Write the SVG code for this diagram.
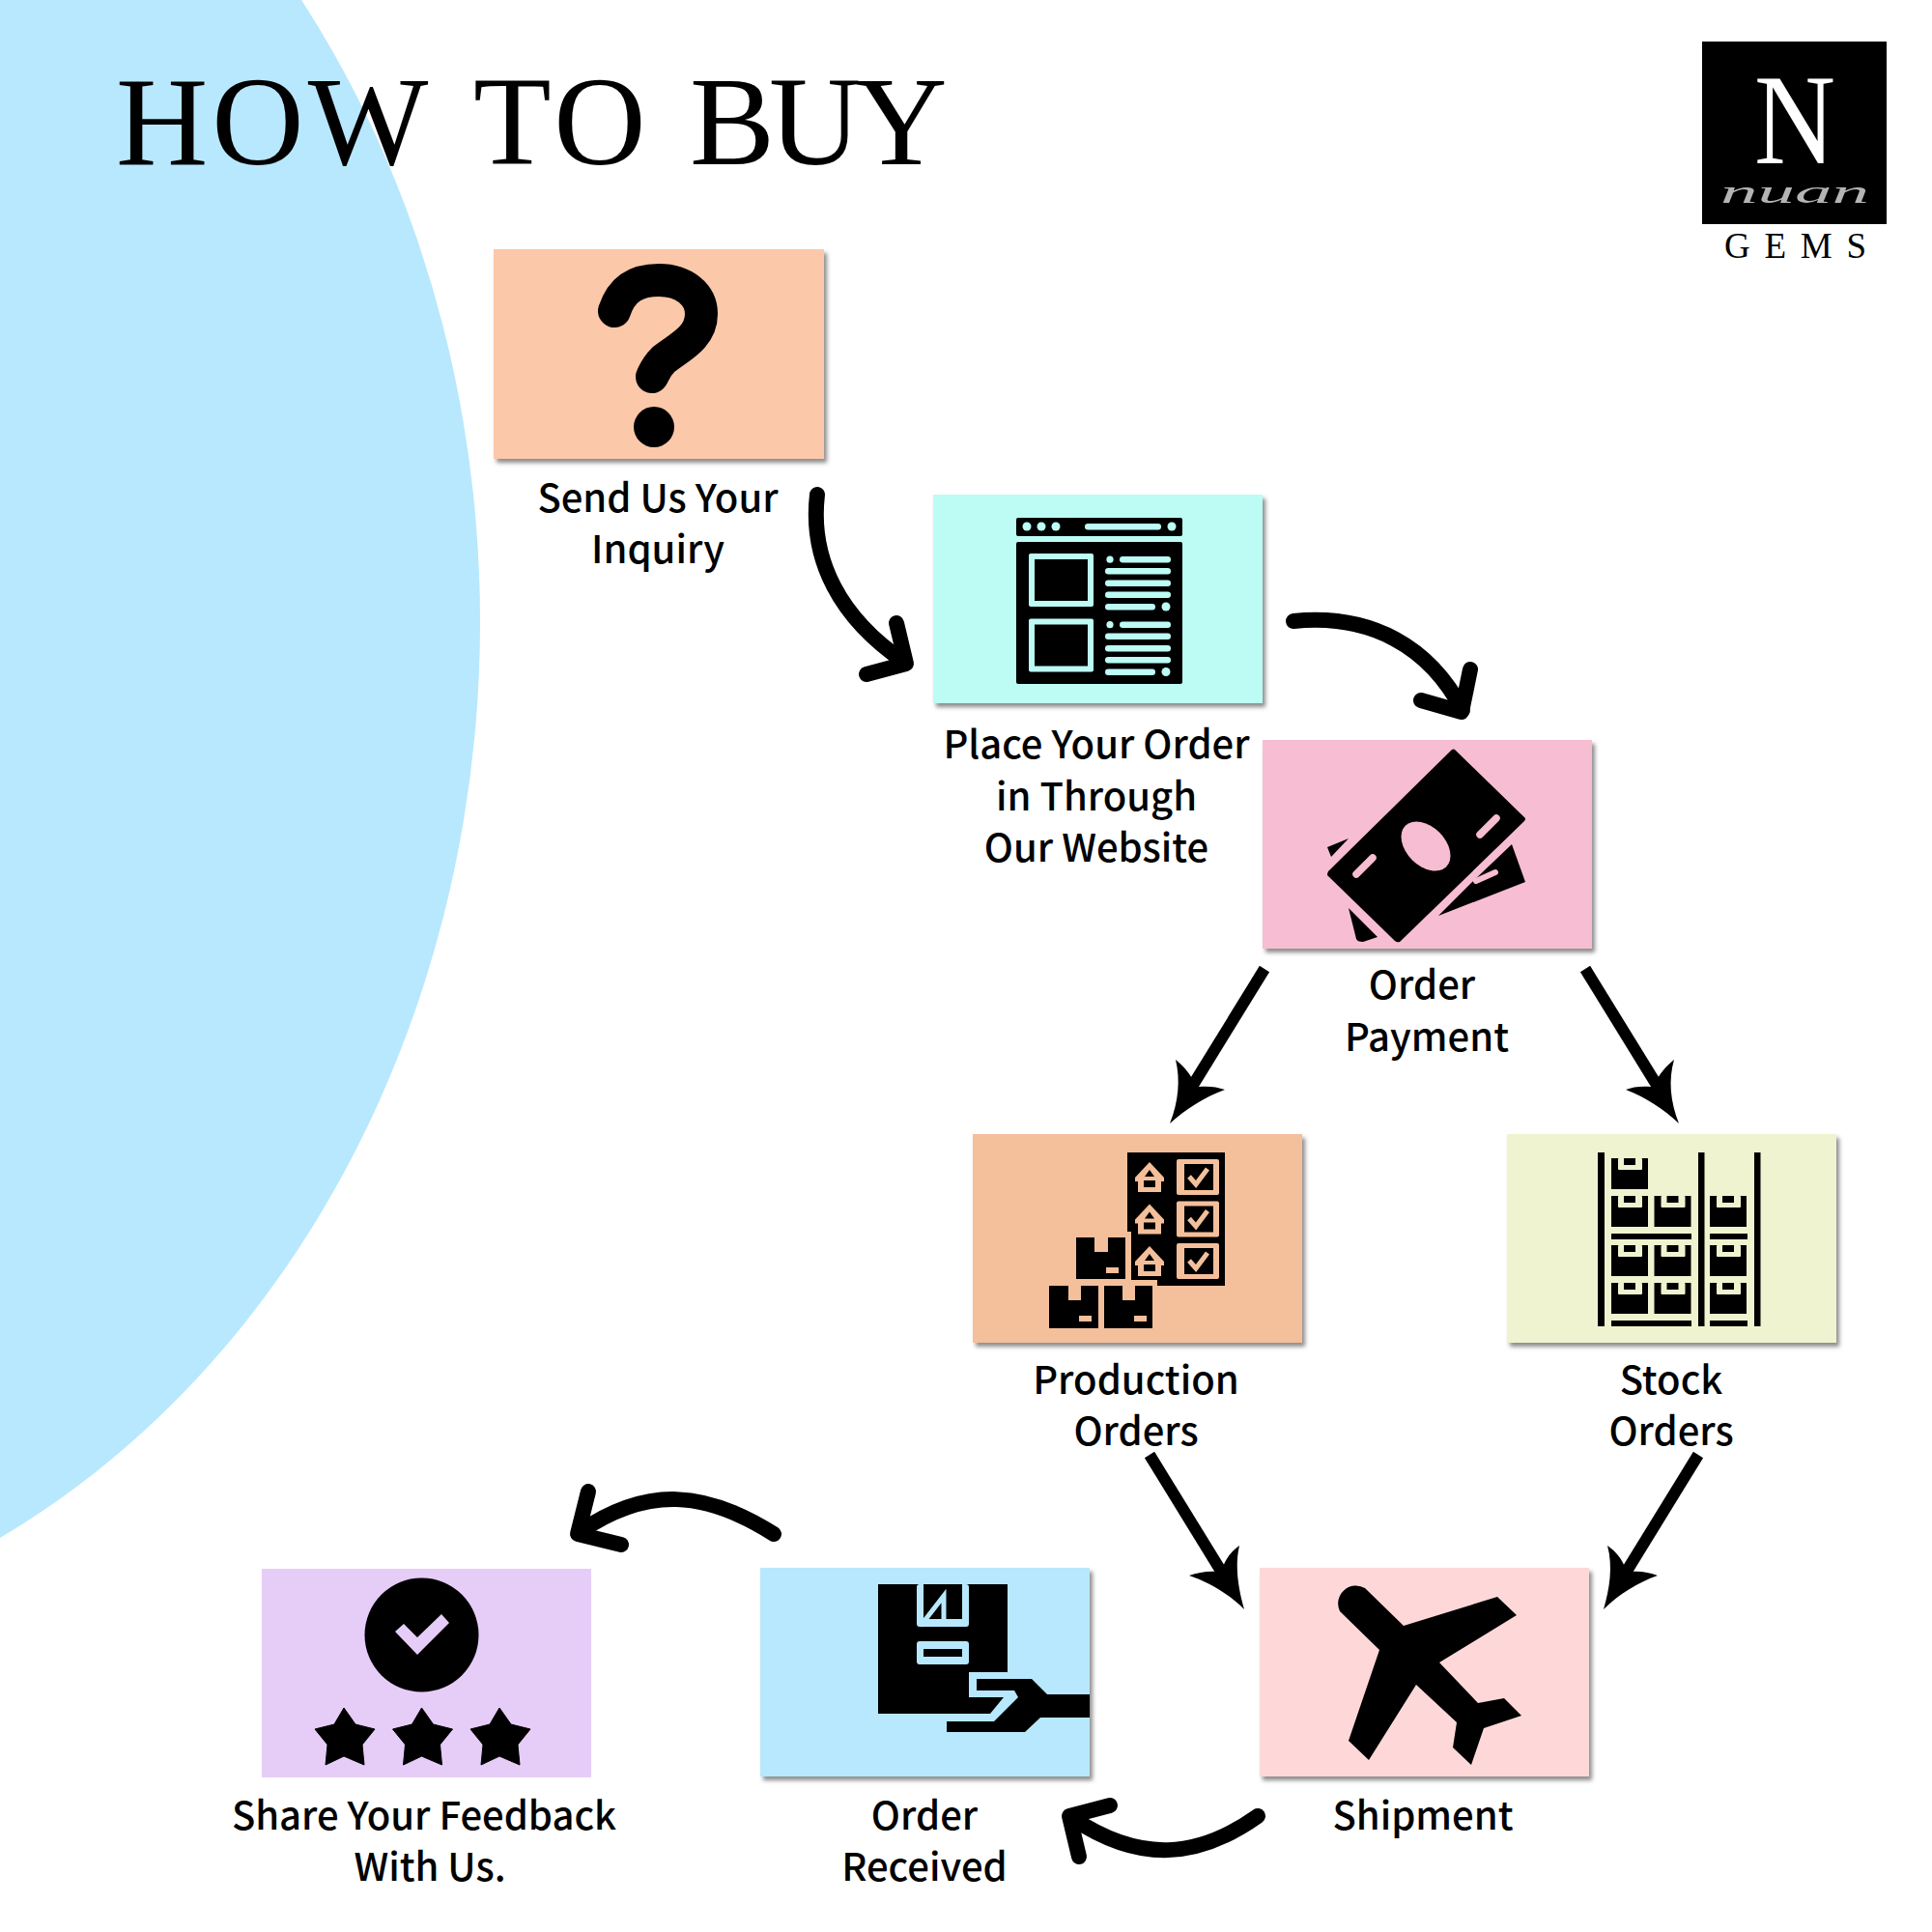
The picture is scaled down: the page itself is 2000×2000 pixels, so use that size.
<svg xmlns="http://www.w3.org/2000/svg" width="2000" height="2000" viewBox="0 0 2000 2000">
<style>
.lbl{font-family:"Noto Sans CJK JP","Noto Sans",sans-serif;font-weight:500;font-size:40px;fill:#000;text-anchor:middle}
.serif{font-family:"Liberation Serif",serif}
.curve{fill:none;stroke:#000;stroke-width:16;stroke-linecap:round;stroke-linejoin:round}
.line{fill:none;stroke:#000;stroke-width:12}
.ah{fill:#000}
.mint{fill:#bcfcf5}
.c{fill:#b8e8fd}
.p{fill:#f4bf9b}
.y{fill:#f0f3cf}
</style>
<defs>
<filter id="sh" x="-5%" y="-5%" width="112%" height="115%"><feDropShadow dx="3" dy="4" stdDeviation="2" flood-color="#666" flood-opacity=".75"/></filter>
<g id="webline"><rect x="1144" y="0" width="68" height="6.5" rx="3.2" class="mint"/></g>
<g id="webgroup">
<circle cx="1149" cy="3.2" r="3.6" class="mint"/><rect x="1159" y="0" width="53" height="6.5" rx="3.2" class="mint"/>
<use href="#webline" y="12"/><use href="#webline" y="24.5"/><use href="#webline" y="36.5"/>
<rect x="1144" y="49" width="52" height="6.5" rx="3.2" class="mint"/><circle cx="1207" cy="52" r="4.5" class="mint"/>
<rect x="1065" y="-3" width="67" height="55" rx="2" class="mint"/><rect x="1071" y="3" width="55" height="43" fill="#000"/>
</g>
<g id="prodrow">
<path class="p" d="M1190 1203L1205 1219V1223H1202V1234H1178V1223H1175V1219Z"/>
<path d="M1190 1211L1185 1218H1195ZM1184 1222H1196V1229H1184Z" fill="#000"/>
<rect x="1218" y="1200" width="44" height="37" rx="2" class="p"/><rect x="1226" y="1205" width="30" height="27" fill="#000"/>
<path d="M1231 1218L1238 1226L1250 1210" fill="none" stroke="#f4bf9b" stroke-width="5"/>
</g>
<g id="carton">
<rect x="0" y="0" width="38" height="32" fill="#000"/>
<rect x="7" y="0" width="25" height="12" rx="1" class="y"/><rect x="13" y="0" width="12" height="7" fill="#000"/>
</g>
<path id="star" d="M356 1768L368 1785L388 1790L375 1806L377 1827L356 1818L337 1827L339 1806L326 1790L346 1785Z" fill="#000" stroke="#000" stroke-width="1" stroke-linejoin="round"/>
</defs>
<rect width="2000" height="2000" fill="#fff"/>
<ellipse cx="-400" cy="644" rx="897" ry="1059" fill="#b8e8fd"/>
<text class="serif" y="170" font-size="132" fill="#000"><tspan x="120" letter-spacing="4">HOW</tspan> <tspan x="490" letter-spacing="5">TO</tspan> <tspan x="714" letter-spacing="-6">BUY</tspan></text>

<g id="logo">
<rect x="1762" y="43" width="191" height="189" fill="#000"/>
<text class="serif" x="1816" y="169" font-size="134" fill="#fff" textLength="84" lengthAdjust="spacingAndGlyphs">N</text>
<text class="serif" x="1781" y="210" font-size="33" font-style="italic" fill="#b4b4b4" textLength="154" lengthAdjust="spacingAndGlyphs">nuan</text>
<text class="serif" x="1785" y="267" font-size="37" fill="#000" textLength="147">GEMS</text>
</g>

<g id="connectors">
<path class="curve" d="M846 512C838 580 870 640 936 685"/><path class="curve" d="M928 645L938 687L897 698"/>
<path class="curve" d="M1339 643C1420 635 1480 670 1514 735"/><path class="curve" d="M1522 693L1513 737L1471 725"/>
<path class="line" d="M1309 1003L1232 1128"/><path class="ah" d="M1211 1163C1220 1140 1222 1118 1217 1097C1226 1104 1232 1112 1236 1120L1241 1125C1250 1124 1260 1125 1268 1128C1246 1136 1228 1148 1211 1163Z"/>
<path class="line" d="M1641 1003L1718 1128"/><path class="ah" d="M1738 1163C1729 1140 1727 1118 1733 1097C1724 1104 1718 1112 1714 1120L1709 1125C1700 1124 1690 1125 1683 1128C1704 1136 1722 1148 1738 1163Z"/>
<path class="line" d="M1190 1506L1270 1636"/><path class="ah" d="M1288 1666C1282 1645 1278 1622 1283 1600C1274 1606 1268 1615 1265 1625L1260 1627C1250 1626 1240 1628 1231 1631C1252 1638 1272 1650 1288 1666Z"/>
<path class="line" d="M1758 1506L1678 1636"/><path class="ah" d="M1660 1666C1666 1645 1670 1622 1664 1600C1673 1606 1680 1615 1683 1625L1688 1627C1698 1626 1708 1628 1716 1631C1696 1638 1676 1650 1660 1666Z"/>
<path class="curve" d="M801 1588C730 1543 670 1538 600 1586"/><path class="curve" d="M609 1544L598 1588L643 1599"/>
<path class="curve" d="M1302 1880C1240 1924 1180 1929 1110 1882"/><path class="curve" d="M1149 1869L1107 1880L1117 1922"/>
</g>

<g id="node-inquiry">
<rect x="511" y="258" width="342" height="217" fill="#fbc8a9" filter="url(#sh)"/>
<path d="M636 322C644 298 660 290 682 290C708 290 726 305 726 325C726 350 702 360 687 372C679 380 677 386 675 390" fill="none" stroke="#000" stroke-width="34" stroke-linecap="round"/>
<circle cx="677" cy="442" r="21" fill="#000"/>
<text class="lbl"><tspan x="681" y="530">Send Us Your</tspan><tspan x="681" y="583">Inquiry</tspan></text>
</g>

<g id="node-order">
<rect x="966" y="512" width="341" height="216" fill="#bcfcf5" filter="url(#sh)"/>
<rect x="1052" y="536" width="172" height="19" rx="2" fill="#000"/>
<rect x="1052" y="561" width="172" height="147" rx="2" fill="#000"/>
<circle cx="1063" cy="545" r="4.5" class="mint"/><circle cx="1078" cy="545" r="4.5" class="mint"/><circle cx="1093" cy="545" r="4.5" class="mint"/>
<rect x="1123" y="542" width="79" height="6.5" rx="3.2" class="mint"/><circle cx="1213" cy="545" r="4.5" class="mint"/>
<use href="#webgroup" y="576"/><use href="#webgroup" y="643.5"/>
<text class="lbl"><tspan x="1135" y="785">Place Your Order</tspan><tspan x="1135" y="839">in Through</tspan><tspan x="1135" y="892">Our Website</tspan></text>
</g>

<g id="node-payment">
<rect x="1307" y="766" width="341" height="216" fill="#f7bdd2" filter="url(#sh)"/>
<path d="M1396 868L1374 877L1378 887ZM1565 874L1579 913L1489 948L1523 914ZM1396 940L1426 970L1411 975Q1405 975 1404 972Z" fill="#000"/>
<path d="M1528 912L1548 903" stroke="#f7bdd2" stroke-width="6" stroke-linecap="round"/>
<path d="M1506 776L1579 847Q1579 849 1578 850L1449 975Q1446 976 1444 974L1374 906Q1374 904 1375 902L1503 776Q1505 775 1506 776Z" fill="#000"/>
<ellipse cx="1476" cy="876" rx="30" ry="20" transform="rotate(45 1476 876)" fill="#f7bdd2"/>
<path d="M1549 847L1532 864M1421 888L1404 905" stroke="#f7bdd2" stroke-width="7.5" stroke-linecap="round"/>
<text class="lbl"><tspan x="1472" y="1034">Order</tspan><tspan x="1477" y="1088">Payment</tspan></text>
</g>

<g id="node-production">
<rect x="1007" y="1174" width="341" height="216" fill="#f4bf9b" filter="url(#sh)"/>
<path d="M1167 1193H1268V1331H1198V1325H1171V1275H1167Z" fill="#000"/>
<use href="#prodrow"/><use href="#prodrow" y="43.5"/><use href="#prodrow" y="87"/>
<path d="M1114 1281H1133V1296H1147V1281H1165V1324H1114ZM1145 1312V1318H1158V1312Z" fill="#000" fill-rule="evenodd"/>
<path d="M1086 1331H1106V1346H1119V1331H1137V1375H1086ZM1117 1362V1368H1130V1362Z" fill="#000" fill-rule="evenodd"/>
<path d="M1143 1331H1162V1346H1175V1331H1193V1375H1143ZM1174 1362V1368H1187V1362Z" fill="#000" fill-rule="evenodd"/>
<text class="lbl"><tspan x="1176" y="1443">Production</tspan><tspan x="1176" y="1496">Orders</tspan></text>
</g>

<g id="node-stock">
<rect x="1560" y="1174" width="341" height="216" fill="#f0f3cf" filter="url(#sh)"/>
<rect x="1654" y="1193" width="7" height="180"/><rect x="1758" y="1193" width="6.5" height="180"/><rect x="1816" y="1193" width="6.5" height="180"/>
<use href="#carton" x="1668" y="1199"/>
<use href="#carton" x="1668" y="1238"/><use href="#carton" x="1712.500" y="1238"/><use href="#carton" x="1770" y="1238"/>
<rect x="1668" y="1277" width="83" height="6"/><rect x="1770" y="1277" width="39" height="6"/>
<use href="#carton" x="1668" y="1289"/><use href="#carton" x="1712.500" y="1289"/><use href="#carton" x="1770" y="1289"/>
<use href="#carton" x="1668" y="1328"/><use href="#carton" x="1712.500" y="1328"/><use href="#carton" x="1770" y="1328"/>
<rect x="1668" y="1367" width="83" height="6"/><rect x="1770" y="1367" width="39" height="6"/>
<text class="lbl"><tspan x="1730" y="1443">Stock</tspan><tspan x="1730" y="1496">Orders</tspan></text>
</g>

<g id="node-shipment">
<rect x="1304" y="1623" width="341" height="216" fill="#fed8d9" filter="url(#sh)"/>
<path d="M1413 1644L1453 1683L1550 1653L1570 1672L1490 1721L1530 1763L1557 1758L1575 1776L1536 1789L1523 1827L1504 1809L1508 1783L1466 1744L1417 1822L1396 1802L1428 1708L1387 1668A18.500 18.500 0 0 1 1413 1644Z" fill="#000"/>
<text class="lbl" x="1473" y="1894">Shipment</text>
</g>

<g id="node-received">
<rect x="787" y="1623" width="341" height="216" fill="#b8e8fd" filter="url(#sh)"/>
<path d="M909 1640H1043V1731H1003V1757H1039L1025 1774H909Z" fill="#000"/>
<rect x="949" y="1640" width="54" height="44" rx="3" class="c"/>
<rect x="956" y="1640" width="40" height="36" fill="#000"/>
<path d="M953 1683L977 1652V1680" fill="none" stroke="#b8e8fd" stroke-width="5"/>
<rect x="949" y="1699" width="54" height="24" rx="3" class="c"/><rect x="956" y="1707" width="40" height="8" fill="#000"/>
<path d="M1011 1738H1068L1084 1754H1128V1778H1077L1061 1793H980V1782H1029L1054 1757L1050 1750H1011Z" fill="#000"/>
<text class="lbl"><tspan x="957" y="1894">Order</tspan><tspan x="957" y="1947">Received</tspan></text>
</g>

<g id="node-feedback">
<rect x="271" y="1624" width="341" height="216" fill="#e6cdf8"/>
<circle cx="436.500" cy="1692.500" r="59" fill="#000"/>
<path d="M409 1689L418 1681L432 1695L457 1671L465 1680L432 1713Z" fill="#e6cdf8"/>
<use href="#star"/><use href="#star" x="80.500"/><use href="#star" x="161"/>
<text class="lbl"><tspan x="439" y="1894">Share Your Feedback</tspan><tspan x="445" y="1947">With Us.</tspan></text>
</g>
</svg>
